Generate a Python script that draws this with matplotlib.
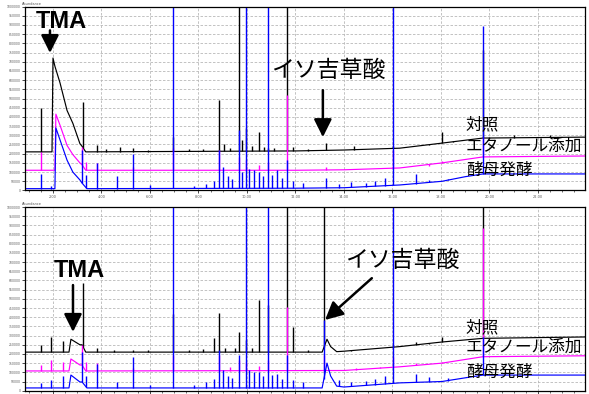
import numpy as np
import matplotlib.pyplot as plt

plt.rcParams['font.family'] = ['Noto Sans CJK JP', 'DejaVu Sans']

# ---- top panel (retention time in min, signal level) ----
top_k_base_t = [0.85, 1.96, 2.0, 2.08, 2.29, 2.58, 2.82, 3.11, 3.2, 3.35, 12.0, 14.0, 16.3, 18.04, 19.73, 23.94]
top_k_base_y = [4.2, 4.2, 14.4, 13.5, 11.7, 8.7, 7.3, 5.1, 4.8, 4.2, 4.3, 4.4, 4.6, 5.15, 5.7, 5.8]
top_k_peak_t = [1.505, 3.237, 3.814, 4.2, 4.76, 5.3, 5.9, 6.948, 7.6, 8.2, 8.845, 9.05, 9.3, 9.67, 9.8,
                9.959, 10.2, 10.495, 10.7, 10.866, 11.1, 11.649, 11.9, 12.5, 13.258, 14.41, 15.2, 16.02,
                16.97, 17.5, 18.04, 18.5, 19.73, 21.0, 22.5]
top_k_peak_y = [9.0, 9.6, 4.95, 4.5, 4.7, 4.6, 4.45, 5.8, 4.5, 4.55, 9.8, 5.0, 4.6, 30, 5.5,
                6.8, 4.8, 6.4, 4.7, 4.6, 4.6, 30, 4.7, 4.5, 5.2, 4.8, 4.55, 4.8,
                4.8, 5.0, 6.4, 5.4, 15.3, 6.0, 6.0]

top_m_base_t = [0.85, 2.08, 2.12, 2.29, 2.58, 2.82, 3.11, 3.2, 3.35, 12.0, 14.0, 16.3, 18.04, 19.73, 23.94]
top_m_base_y = [2.2, 2.2, 8.3, 7.1, 4.9, 3.9, 3.0, 2.8, 2.2, 2.2, 2.25, 2.45, 3.0, 3.65, 3.75]
top_m_peak_t = [1.505, 3.2, 3.36, 3.814, 5.3, 6.948, 8.845, 9.67, 9.959, 10.495, 10.866, 11.649,
                13.258, 16.02, 16.97, 17.5, 18.04, 19.73]
top_m_peak_y = [4.2, 4.7, 3.1, 3.0, 2.5, 4.6, 4.4, 3.6, 3.3, 2.8, 3.1, 10.4,
                2.55, 4.4, 2.7, 2.7, 3.2, 5.8]

top_b_base_t = [0.85, 2.08, 2.12, 2.29, 2.58, 2.82, 3.11, 3.2, 3.4, 12.0, 14.0, 16.3, 18.04, 19.0, 19.73, 23.94]
top_b_base_y = [0.2, 0.2, 6.8, 5.5, 3.3, 2.0, 1.15, 0.8, 0.2, 0.25, 0.3, 0.6, 1.0, 1.5, 1.8, 1.8]
top_b_peak_t = [1.505, 1.9, 3.2, 3.36, 3.814, 4.64, 5.3, 6.0, 6.948, 7.8, 8.3, 8.64, 8.845, 9.0, 9.2,
                9.4, 9.67, 9.8, 9.959, 10.1, 10.3, 10.495, 10.65, 10.866, 11.05, 11.25, 11.45, 11.649,
                11.9, 12.3, 13.258, 13.8, 14.3, 14.9, 15.3, 15.7, 16.02, 16.97, 17.5, 18.3, 19.73]
top_b_peak_y = [1.8, 0.5, 4.4, 1.7, 3.0, 1.6, 4.0, 0.6, 30, 0.5, 0.7, 1.0, 4.4, 2.5, 1.6,
                1.3, 6.6, 2.0, 30, 2.3, 2.2, 2.0, 1.6, 30, 1.7, 2.2, 1.4, 3.3,
                1.0, 0.8, 1.35, 0.7, 0.9, 0.8, 1.0, 1.4, 30, 1.8, 1.1, 1.3, 17.9]

# ---- bottom panel ----
bot_k_base_t = [0.85, 2.66, 2.74, 3.11, 3.2, 3.35, 13.1, 13.3, 13.45, 13.7, 14.0, 16.3, 18.04, 19.73, 23.94]
bot_k_base_y = [4.2, 4.2, 5.6, 5.0, 5.0, 4.2, 4.2, 5.6, 4.8, 4.25, 4.3, 4.8, 5.3, 5.7, 5.85]
bot_k_peak_t = [1.505, 1.9, 2.4, 3.237, 3.814, 4.5, 5.3, 5.9, 6.948, 7.6, 8.2, 8.64, 8.845, 9.1, 9.5,
                9.67, 9.959, 10.2, 10.495, 10.866, 11.649, 11.897, 12.5, 13.175, 14.3, 15.0, 16.02,
                16.97, 17.5, 18.04, 19.73]
bot_k_peak_y = [5.0, 5.85, 5.4, 11.7, 4.65, 4.4, 4.4, 4.4, 8.3, 4.4, 4.5, 5.75, 8.45, 4.6, 4.6,
                6.4, 5.5, 4.6, 9.9, 9.3, 30, 6.9, 4.4, 30, 4.4, 4.5, 5.0,
                5.3, 5.1, 5.85, 30]

bot_m_base_t = [0.85, 2.66, 2.74, 3.11, 3.2, 3.35, 14.0, 16.3, 18.04, 19.73, 23.94]
bot_m_base_y = [2.15, 2.15, 3.45, 2.8, 2.8, 2.15, 2.2, 2.6, 3.0, 3.7, 3.8]
bot_m_peak_t = [1.505, 1.9, 2.4, 3.2, 3.36, 3.814, 5.3, 6.948, 8.845, 9.3, 9.67, 9.959, 10.495,
                10.866, 11.649, 13.175, 14.5, 15.5, 16.02, 16.97, 17.5, 18.04, 19.73]
bot_m_peak_y = [2.8, 3.35, 3.1, 5.0, 3.1, 3.0, 2.5, 3.9, 3.9, 2.6, 3.35, 3.1, 2.7,
                3.35, 9.1, 3.9, 2.5, 2.6, 3.7, 3.0, 2.9, 3.1, 17.7]

bot_b_base_t = [0.85, 2.66, 2.74, 3.11, 3.2, 3.4, 13.1, 13.3, 13.45, 13.7, 14.0, 16.3, 18.04, 19.0, 19.73, 23.94]
bot_b_base_y = [0.3, 0.3, 1.7, 0.95, 0.95, 0.3, 0.3, 3.0, 1.6, 0.5, 0.4, 0.85, 1.0, 1.4, 1.7, 1.7]
bot_b_peak_t = [1.505, 1.9, 2.4, 3.2, 3.36, 3.814, 4.64, 5.3, 6.0, 6.948, 7.8, 8.3, 8.64, 8.845, 9.0,
                9.2, 9.4, 9.67, 9.959, 10.1, 10.3, 10.495, 10.65, 10.866, 11.05, 11.25, 11.45, 11.649,
                11.9, 12.3, 13.175, 13.8, 14.3, 14.9, 15.3, 15.7, 16.02, 16.97, 17.5, 18.3, 19.73]
bot_b_peak_y = [0.85, 1.15, 1.6, 4.2, 1.6, 2.9, 1.0, 3.65, 0.6, 30, 0.6, 0.9, 1.3, 4.4, 2.3,
                1.6, 1.4, 3.9, 30, 2.2, 2.0, 2.0, 1.6, 30, 1.7, 1.8, 1.3, 3.9,
                1.2, 1.0, 7.7, 1.2, 1.0, 1.1, 1.3, 1.6, 30, 1.8, 1.5, 1.4, 5.8]

sample_names = ['対照', 'エタノール添加', '酵母発酵']
trace_colors = ['black', '#ff00ff', '#0000ff']
x_ticks = [2, 4, 6, 8, 10, 12, 14, 16, 18, 20, 22]
y_ticks = list(range(0, 21))


def draw_trace(ax, bt, by, pt, py, color):
    ax.plot(bt, by, color=color, lw=0.85)
    base = np.interp(pt, bt, by)
    ax.vlines(pt, base, py, color=color, lw=1.0)


def setup_axes(ax, show_xlabels=True):
    ax.set_xlim(0.845, 23.94)
    ax.set_ylim(0, 20)
    ax.set_xticks(x_ticks)
    ax.set_xticks(np.arange(1, 24, 0.5), minor=True)
    if show_xlabels:
        ax.set_xticklabels([f'{v:.2f}' for v in x_ticks], fontsize=2.5, color='#555555',
                           family='DejaVu Sans')
    else:
        ax.set_xticklabels([])
    ax.set_yticks(y_ticks)
    ax.set_yticklabels([f'{v * 50000}' for v in y_ticks], fontsize=2.2, color='#555555',
                       family='DejaVu Sans')
    ax.tick_params(length=2, width=0.5, pad=1)
    ax.tick_params(which='minor', length=1.2, width=0.4)
    ax.grid(True, color='#b8b8b8', ls=(0, (3, 2)), lw=0.6)
    for s in ax.spines.values():
        s.set_linewidth(0.9)
    ax.text(-0.005, 1.003, 'Abundance', transform=ax.transAxes, fontsize=2.5,
            color='#555555', family='DejaVu Sans', va='bottom', ha='left')


fig = plt.figure(figsize=(5.89, 3.94), dpi=100)
ax1 = fig.add_axes([0.0424, 0.5165, 0.9508, 0.467])
ax2 = fig.add_axes([0.0424, 0.0084, 0.9508, 0.4662])

setup_axes(ax1)
setup_axes(ax2, show_xlabels=False)

draw_trace(ax1, top_k_base_t, top_k_base_y, top_k_peak_t, top_k_peak_y, trace_colors[0])
draw_trace(ax1, top_m_base_t, top_m_base_y, top_m_peak_t, top_m_peak_y, trace_colors[1])
draw_trace(ax1, top_b_base_t, top_b_base_y, top_b_peak_t, top_b_peak_y, trace_colors[2])

draw_trace(ax2, bot_k_base_t, bot_k_base_y, bot_k_peak_t, bot_k_peak_y, trace_colors[0])
draw_trace(ax2, bot_m_base_t, bot_m_base_y, bot_m_peak_t, bot_m_peak_y, trace_colors[1])
draw_trace(ax2, bot_b_base_t, bot_b_base_y, bot_b_peak_t, bot_b_peak_y, trace_colors[2])

arrow = dict(arrowstyle='-|>,head_length=0.9,head_width=0.45', color='black', lw=1.8,
             mutation_scale=12, shrinkA=0, shrinkB=0)

# top annotations
ax1.text(2.33, 18.4, 'TMA', fontsize=17, fontweight='bold', family='Liberation Sans',
         ha='center', va='center', zorder=5)
ax1.annotate('', xy=(1.876, 14.95), xytext=(1.876, 17.4), arrowprops=arrow, zorder=5)
ax1.text(13.34, 13.0, 'イソ吉草酸', fontsize=16.5, ha='center', va='center', zorder=5)
ax1.annotate('', xy=(13.13, 5.8), xytext=(13.13, 10.9), arrowprops=arrow, zorder=5)
for label, yy in zip(sample_names, [7.1, 4.77, 2.25]):
    ax1.text(19.03, yy, label, fontsize=12, ha='left', va='center', zorder=5)

# bottom annotations
ax2.text(3.09, 13.1, 'TMA', fontsize=17, fontweight='bold', family='Liberation Sans',
         ha='center', va='center', zorder=5)
ax2.annotate('', xy=(2.825, 6.4), xytext=(2.825, 11.5), arrowprops=arrow, zorder=5)
ax2.text(16.39, 14.2, 'イソ吉草酸', fontsize=16.5, ha='center', va='center', zorder=5)
ax2.annotate('', xy=(13.22, 7.7), xytext=(15.15, 12.25), arrowprops=arrow, zorder=5)
for label, yy in zip(sample_names, [6.8, 4.75, 2.05]):
    ax2.text(19.03, yy, label, fontsize=12, ha='left', va='center', zorder=5)

fig.savefig('out.png', dpi=100)
